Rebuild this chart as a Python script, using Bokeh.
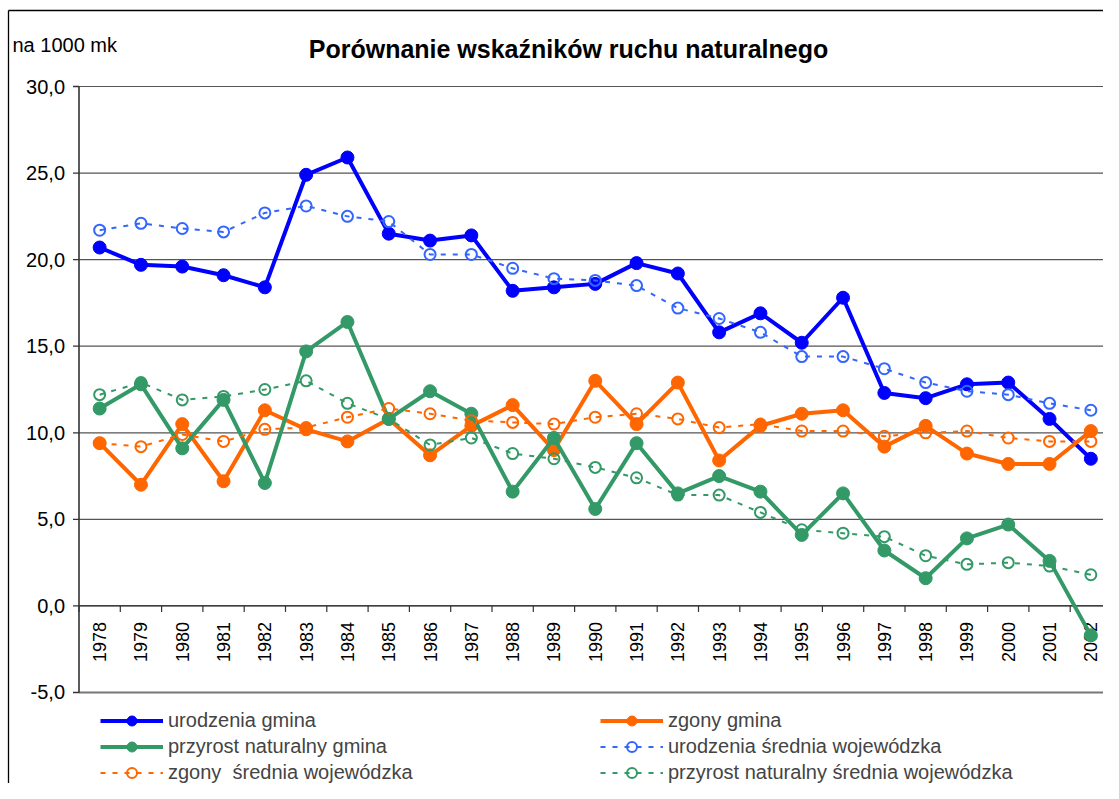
import math
from bokeh.plotting import figure
from bokeh.models import Range1d, Legend, LegendItem, ColumnDataSource
from bokeh.core.properties import value
from bokeh.embed import file_html
from bokeh.resources import INLINE

# ---------------- data ----------------
years = [str(y) for y in range(1978, 2003)]

urodzenia_gmina = [20.7, 19.7, 19.6, 19.1, 18.4, 24.9, 25.9, 21.5, 21.1, 21.4, 18.2, 18.4, 18.6,
                   19.8, 19.2, 15.8, 16.9, 15.2, 17.8, 12.3, 12.0, 12.8, 12.9, 10.8, 8.5]
zgony_gmina = [9.4, 7.0, 10.5, 7.2, 11.3, 10.2, 9.5, 10.8, 8.7, 10.4, 11.6, 9.0, 13.0,
               10.5, 12.9, 8.4, 10.4, 11.1, 11.3, 9.2, 10.4, 8.8, 8.2, 8.2, 10.1]
przyrost_gmina = [11.4, 12.8, 9.1, 11.9, 7.1, 14.7, 16.4, 10.8, 12.4, 11.1, 6.6, 9.7, 5.6,
                  9.4, 6.5, 7.5, 6.6, 4.1, 6.5, 3.2, 1.6, 3.9, 4.7, 2.6, -1.7]
urodzenia_sr = [21.7, 22.1, 21.8, 21.6, 22.7, 23.1, 22.5, 22.2, 20.3, 20.3, 19.5, 18.9, 18.8,
                18.5, 17.2, 16.6, 15.8, 14.4, 14.4, 13.7, 12.9, 12.4, 12.2, 11.7, 11.3]
zgony_sr = [9.4, 9.2, 9.9, 9.5, 10.2, 10.3, 10.9, 11.4, 11.1, 10.7, 10.6, 10.5, 10.9,
            11.1, 10.8, 10.3, 10.5, 10.1, 10.1, 9.8, 10.0, 10.1, 9.7, 9.5, 9.5]
przyrost_sr = [12.2, 12.9, 11.9, 12.1, 12.5, 13.0, 11.7, 10.8, 9.3, 9.7, 8.8, 8.5, 8.0,
               7.4, 6.4, 6.4, 5.4, 4.4, 4.2, 4.0, 2.9, 2.4, 2.5, 2.3, 1.8]

y_ticks = [-5, 0, 5, 10, 15, 20, 25, 30]

series_names = ["urodzenia gmina", "zgony gmina", "przyrost naturalny gmina",
                "urodzenia średnia wojewódzka", "zgony  średnia wojewódzka",
                "przyrost naturalny średnia wojewódzka"]

title_text = "Porównanie wskaźników ruchu naturalnego"
unit_text = "na 1000 mk"

# ---------------- layout (pixels) ----------------
W, H = 1103, 783
PLOT_LEFT = 78.5          # pixel of the value axis
UX = 41.3                 # pixels per category
Y_TOP_VAL = max(y_ticks)
Y_TOP_PX = 86.0           # pixel of the top gridline
UY = 17.314               # pixels per unit

def X(px):
    return (px - PLOT_LEFT) / UX

def Y(py):
    return Y_TOP_VAL + (Y_TOP_PX - py) / UY

FONT = "Liberation Sans"
n = len(years)
xc = [i + 0.5 for i in range(n)]

p = figure(width=W, height=H, output_backend="svg", toolbar_location=None,
           x_range=Range1d(X(0), X(W)), y_range=Range1d(Y(H), Y(0)),
           x_axis_location=None, y_axis_location=None,
           min_border_left=0, min_border_right=0, min_border_top=0, min_border_bottom=0)
p.outline_line_color = None
p.grid.visible = False
p.background_fill_color = "white"
p.border_fill_color = "white"

# outer chart border (left and top)
p.segment(x0=[X(8), X(8)], y0=[Y(10), Y(10)], x1=[X(8), X(W + 20)], y1=[Y(H + 20), Y(10)],
          line_color="black", line_width=1.3)

# horizontal gridlines
grid_vals = [t for t in y_ticks if t != 0]
p.segment(x0=[0] * len(grid_vals), y0=grid_vals, x1=[n + 1] * len(grid_vals), y1=grid_vals,
          line_color="#555555", line_width=1.2)
# bottom line of plot area a bit heavier
p.segment(x0=[0], y0=[min(y_ticks)], x1=[n + 1], y1=[min(y_ticks)],
          line_color="#777777", line_width=2)

# category axis at zero
p.segment(x0=[0], y0=[0], x1=[n + 1], y1=[0], line_color="black", line_width=1.2)
bounds = list(range(n + 1))
p.segment(x0=bounds, y0=[0] * len(bounds), x1=bounds, y1=[-6 / UY] * len(bounds),
          line_color="#333333", line_width=1.2)
p.text(x=xc, y=[0] * n, text=years, angle=math.pi / 2,
       text_align="right", text_baseline="middle", y_offset=16,
       text_font=value(FONT), text_font_size="18px", text_color="black")

# value axis
p.segment(x0=[0], y0=[min(y_ticks)], x1=[0], y1=[max(y_ticks)], line_color="#333333", line_width=1.6)
p.segment(x0=[0] * len(y_ticks), y0=y_ticks, x1=[-6 / UX] * len(y_ticks), y1=y_ticks,
          line_color="#333333", line_width=1.3)
y_labels = [f"{t:.1f}".replace(".", ",") for t in y_ticks]
p.text(x=[0] * len(y_ticks), y=y_ticks, text=y_labels, x_offset=-14,
       text_align="right", text_baseline="middle",
       text_font=value(FONT), text_font_size="20px", text_color="black")

# ---------------- series ----------------
BLUE = "#0000FF"
ORANGE = "#FF6600"
GREEN = "#339966"
BLUE2 = "#3366FF"

solid = [(urodzenia_gmina, BLUE), (zgony_gmina, ORANGE), (przyrost_gmina, GREEN)]
avg = [(urodzenia_sr, BLUE2), (zgony_sr, ORANGE), (przyrost_sr, GREEN)]

renderers = []
for vals, col in solid:
    src = ColumnDataSource(dict(x=xc, y=vals))
    l = p.line("x", "y", source=src, line_color=col, line_width=4)
    s = p.scatter("x", "y", source=src, marker="circle", size=13, fill_color=col, line_color=col)
    renderers.append([l, s])
for vals, col in avg:
    src = ColumnDataSource(dict(x=xc, y=vals))
    l = p.line("x", "y", source=src, line_color=col, line_width=2, line_dash="5 7")
    s = p.scatter("x", "y", source=src, marker="circle", size=11, fill_color=None,
                  line_color=col, line_width=2)
    renderers.append([l, s])

items = [LegendItem(label=name, renderers=r) for name, r in zip(series_names, renderers)]

legend = Legend(items=items, location=(100, -2), orientation="horizontal", ncols=2,
                glyph_width=63, glyph_height=25, label_height=25, label_width=431,
                label_standoff=5, spacing=1, padding=0, margin=0,
                label_text_font=FONT, label_text_font_size="20px",
                label_text_baseline="middle",
                background_fill_alpha=0, border_line_color=None)
p.add_layout(legend, "center")

# ---------------- texts ----------------
p.text(x=[X(568)], y=[Y(48)], text=[title_text], text_align="center", text_baseline="middle",
       text_font=value(FONT), text_font_size="25px", text_font_style="bold", text_color="black")
p.text(x=[X(12)], y=[Y(44)], text=[unit_text], text_align="left", text_baseline="middle",
       text_font=value(FONT), text_font_size="20px", text_color="black")

open("out.html", "w").write(file_html(p, INLINE))
